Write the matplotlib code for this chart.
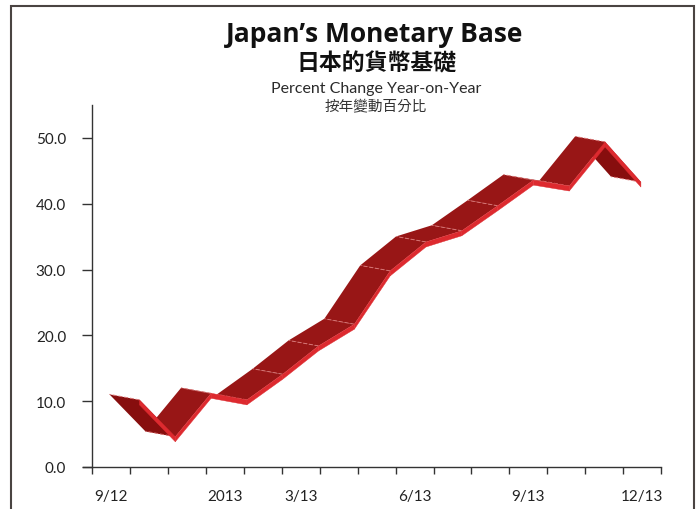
import matplotlib
matplotlib.use("Agg")
import matplotlib.pyplot as plt
from matplotlib.patches import Polygon, Rectangle
import numpy as np

# ---- data ----
months = ["9/12", "10/12", "11/12", "12/12", "1/13", "2/13", "3/13", "4/13",
          "5/13", "6/13", "7/13", "8/13", "9/13", "10/13", "11/13"]
values = [10.2, 4.6, 11.2, 10.2, 14.1, 18.4, 21.7, 29.8, 34.2, 35.9,
          39.7, 43.6, 42.7, 49.4, 43.3]
y_ticks = [0, 10, 20, 30, 40, 50]
x_tick_labels = ["9/12", "2013", "3/13", "6/13", "9/13", "12/13"]
x_label_pos = [0.5, 3.5, 5.5, 8.5, 11.5, 14.5]

W, H = 700, 510
fig = plt.figure(figsize=(W / 100, H / 100), dpi=100)
ax = fig.add_axes([83 / W, 1 - 468 / H, 578 / W, 55 * 6.58 / H])
ax.set_xlim(-0.25, 15)
ax.set_ylim(0, 55)

# ribbon geometry (screen-space offsets in pixels)
x0, step = 1.24, 0.945
xf = x0 + step * np.arange(len(values))
front = ax.transData.transform(np.column_stack([xf, values]))
back = front + np.array([-30.0, 5.5])
band = front + np.array([0.0, -5.0])
inv = ax.transData.inverted()
F, B, D = inv.transform(front), inv.transform(back), inv.transform(band)

c_face = "#981616"
c_dark = "#870e0e"
c_red = "#dd2a2f"
c_edge = "#d77474"

n = len(values)
for i in reversed(range(n - 1)):
    steep_down = values[i] - values[i + 1] > 3
    poly = Polygon([F[i], F[i + 1], B[i + 1], B[i]], closed=True,
                   facecolor=c_dark if steep_down else c_face,
                   edgecolor="none", zorder=2)
    ax.add_patch(poly)

for i in range(n):
    ax.plot([F[i][0], B[i][0]], [F[i][1], B[i][1]], color=c_edge, lw=0.7,
            dashes=(4, 2), zorder=3, solid_capstyle="butt")

for i in range(n - 1):
    poly = Polygon([F[i], F[i + 1], D[i + 1], D[i]], closed=True,
                   facecolor=c_red, edgecolor=c_red, lw=0.3, zorder=4)
    ax.add_patch(poly)

# axes styling
for s in ["top", "right"]:
    ax.spines[s].set_visible(False)
ax.spines["left"].set_position(("data", 0))
for s in ["left", "bottom"]:
    ax.spines[s].set_color("#333333")
    ax.spines[s].set_linewidth(1.0)

ax.set_yticks(y_ticks)
ax.set_yticklabels([f"{v:.1f}" for v in y_ticks])
ax.set_xticks(np.arange(0, 16))
ax.set_xticklabels([])
ax.set_xticks(x_label_pos, minor=True)
ax.set_xticklabels(x_tick_labels, minor=True)
ax.tick_params(axis="x", which="major", direction="out", length=5, width=1,
               color="#333333")
ax.tick_params(axis="x", which="minor", length=0, pad=16, labelsize=11,
               labelcolor="#222222")
ax.tick_params(axis="y", direction="out", length=7, width=1, color="#333333",
               pad=12, labelsize=11, labelcolor="#222222")
for lab in ax.get_xticklabels(minor=True) + ax.get_yticklabels():
    lab.set_family(["Lato", "DejaVu Sans"])

# titles
fig.text(375 / W, 1 - 35 / H, "Japan\u2019s Monetary Base", ha="center",
         va="center", fontsize=19, fontweight="bold",
         family=["Open Sans", "DejaVu Sans"], color="#111111")
fig.text(376 / W, 1 - 64 / H, "日本的貨幣基礎", ha="center", va="center",
         fontsize=16.5, fontweight="bold",
         family=["Noto Sans CJK TC", "DejaVu Sans"], color="#111111")
fig.text(376 / W, 1 - 89 / H, "Percent Change Year-on-Year", ha="center",
         va="center", fontsize=11.5, fontweight="normal",
         family=["Lato", "DejaVu Sans"], color="#2a2a2a")
fig.text(376 / W, 1 - 107 / H, "按年變動百分比", ha="center", va="center",
         fontsize=10.5, fontweight="light",
         family=["Noto Sans CJK TC", "DejaVu Sans"], color="#333333")

# outer frame
fig.patches.append(Rectangle((11 / W, -0.2), (694 - 11) / W, 1.2 - 7 / H,
                             transform=fig.transFigure, fill=False,
                             edgecolor="#4a4442", lw=1.5))

fig.savefig("out.png", dpi=100)
